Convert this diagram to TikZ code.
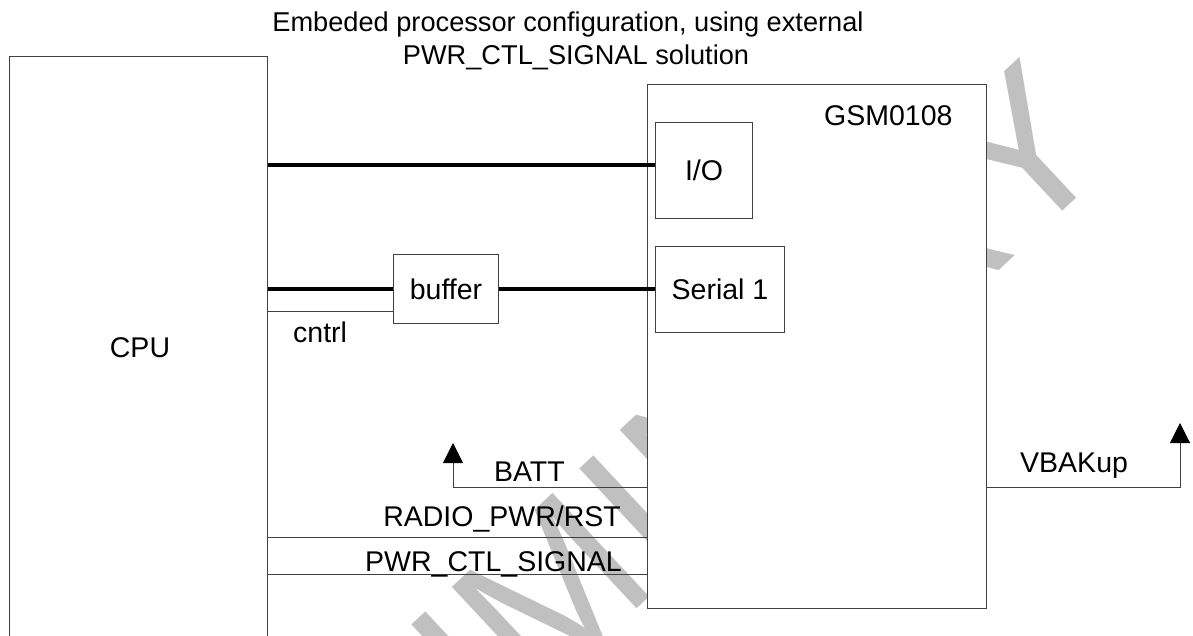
\documentclass[tikz,border=0pt]{standalone}
\usepackage{fontspec}
\setmainfont{Liberation Sans}
\usetikzlibrary{arrows.meta}
\tikzset{
  block/.style={
    draw=black!75,
    line width=1pt,
    fill=white,
    inner sep=0pt
  },
  line-thin/.style={draw=black!75, line width=1pt},
  line-bus/.style={draw=black, line width=4pt},
  arrow-up/.style={line-thin, -{Triangle[length=20pt,width=20pt,color=black]}},
  text-label/.style={inner sep=0pt, font=\fontsize{28.5}{33}\selectfont},
  text-title/.style={inner sep=0pt, font=\fontsize{27.2}{33}\selectfont},
  watermark/.style={inner sep=0pt, text=markgray, rotate=43, font=\fontsize{206}{206}\selectfont}
}
\definecolor{markgray}{RGB}{192,192,192}

\begin{document}
\begin{tikzpicture}[x=1pt,y=-1pt]
  \useasboundingbox (0,0) rectangle (1193,635);
  \clip (0,0) rectangle (1193,635);
  % Watermark behind everything
  \node[watermark, anchor=base east] (mark) at (1120,158) {PRELIMINARY};
  % Title
  \node[text-title, anchor=base] (title1) at (568,31) {Embeded processor configuration, using external};
  \node[text-title, anchor=base] (title2) at (576,64) {PWR\_CTL\_SIGNAL solution};
  % CPU
  \node[block, anchor=north west, minimum width=258pt, minimum height=660pt] (cpu) at (9,56) {};
  \node[text-label] (cpu-name) at (140,348) {CPU};
  % GSM module and its ports
  \node[block, anchor=north west, minimum width=339pt, minimum height=524pt] (gsm) at (647,84) {};
  \node[text-label, anchor=base west] (gsm-name) at (824,125) {GSM0108};
  \node[block, text-label, anchor=north west, minimum width=97pt, minimum height=96pt] (io) at (655,122) {I/O};
  \node[block, text-label, anchor=north west, minimum width=129pt, minimum height=86pt] (serial) at (655,245.5) {Serial 1};
  % Buffer
  \node[block, text-label, anchor=north west, minimum width=105pt, minimum height=69pt] (buffer) at (393,254) {buffer};
  % Pins and levels
  \coordinate (io-pin) at ([yshift=6pt]io.west);
  \coordinate (cntrl-pin) at ([yshift=-22pt]buffer.west);
  \coordinate (batt-lvl) at (0,487);
  \coordinate (radio-lvl) at (0,537);
  \coordinate (pwr-lvl) at (0,574);
  \coordinate (batt-tip) at (453,443);
  \coordinate (vbak-tip) at (1180,423);
  % Buses
  \draw[line-bus] (cpu.east |- io-pin) -- (io-pin);
  \draw[line-bus] (cpu.east |- buffer.west) -- (buffer.west);
  \draw[line-bus] (buffer.east) -- (serial.west);
  % Control and power lines
  \draw[line-thin] (cpu.east |- cntrl-pin) -- (cntrl-pin);
  \draw[arrow-up] (gsm.west |- batt-lvl) -| (batt-tip);
  \draw[line-thin] (cpu.east |- radio-lvl) -- (gsm.west |- radio-lvl);
  \draw[line-thin] (cpu.east |- pwr-lvl) -- (gsm.west |- pwr-lvl);
  \draw[arrow-up] (gsm.east |- batt-lvl) -| (vbak-tip);
  % Labels
  \node[text-label, anchor=base west] (cntrl-lbl) at (293,342) {cntrl};
  \node[text-label, anchor=base east] (batt-lbl) at (565,481) {BATT};
  \node[text-label, anchor=base east] (radio-lbl) at (621,526) {RADIO\_PWR/RST};
  \node[text-label, anchor=base east] (pwr-lbl) at (622,571) {PWR\_CTL\_SIGNAL};
  \node[text-label, anchor=base west] (vbak-lbl) at (1020,472) {VBAKup};
\end{tikzpicture}
\end{document}
